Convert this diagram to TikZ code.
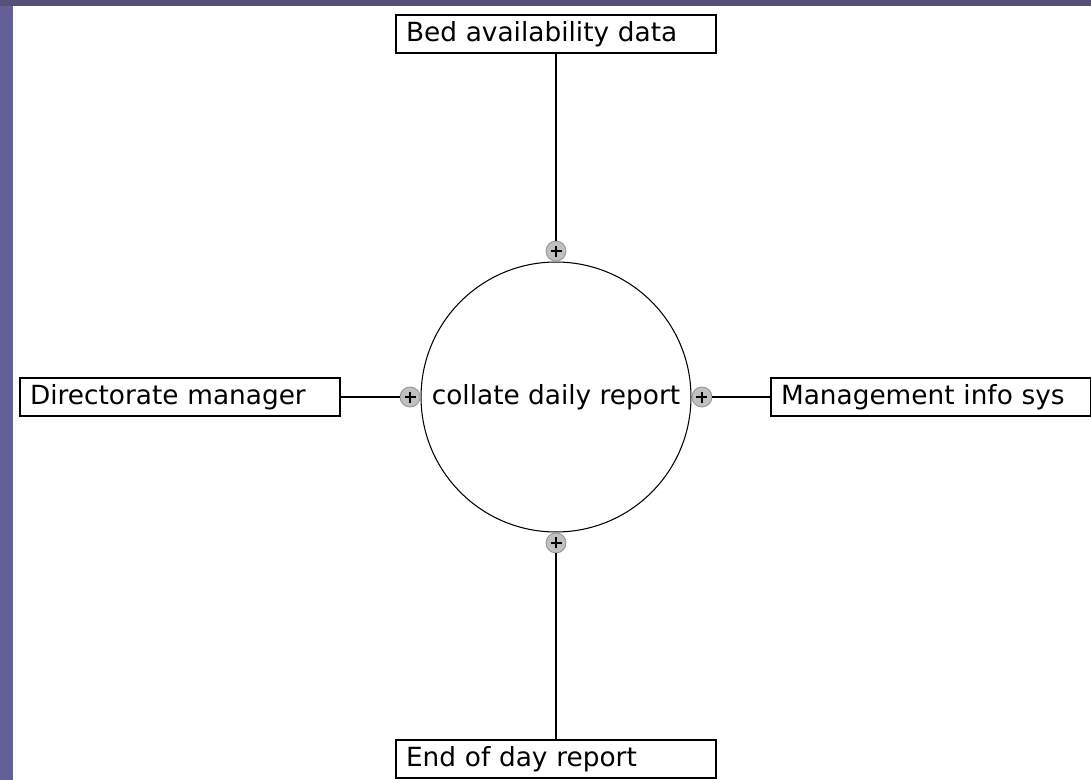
\documentclass[tikz,border=0pt]{standalone}
\usepackage{fontspec}
\setmainfont{DejaVu Sans}
\usetikzlibrary{positioning}

\definecolor{slideside}{RGB}{98,96,150}
\definecolor{slidetop}{RGB}{84,80,120}
\definecolor{portfill}{RGB}{192,192,192}
\definecolor{portedge}{RGB}{150,150,150}

\tikzset{
  actor/.style={draw, line width=0.8pt, minimum height=0.76cm, text width=6cm,
    align=left, inner xsep=0.2cm},
  process/.style={draw, circle, line width=0.6pt, minimum size=5.4cm, inner sep=0pt},
  port/.style={circle, draw=portedge, fill=portfill, line width=0.5pt,
    minimum size=0.4cm, inner sep=0pt,
    path picture={
      \draw[black, line width=0.9pt] ([xshift=-0.11cm]path picture bounding box.center)
        -- ([xshift=0.11cm]path picture bounding box.center);
      \draw[black, line width=0.9pt] ([yshift=-0.11cm]path picture bounding box.center)
        -- ([yshift=0.11cm]path picture bounding box.center);
    }},
  link/.style={line width=0.7pt}
}

\begin{document}
\begin{tikzpicture}[x=0.02cm, y=-0.02cm, font=\fontsize{15}{18}\selectfont]
    % slide backdrop
    \fill[slideside] (0,0) rectangle (1091,780);
    \fill[slidetop] (0,0) rectangle (1091,6);
    \fill[white] (13,6) rectangle (1091,780);
    \useasboundingbox (0,0) rectangle (1091,780);

    \node[process] (collate) at (556,397) {collate daily report};

    \node[port, above=0pt of collate] (portn) {};
    \node[port, below=0pt of collate] (ports) {};
    \node[port, left=0pt of collate] (portw) {};
    \node[port, right=0pt of collate] (porte) {};

    \node[actor] (bed) at (556,34) {Bed availability data};
    \node[actor] (dirman) at (180,397) {Directorate manager};
    \node[actor] (mis) at (931,397) {Management info sys};
    \node[actor] (eod) at (556,759) {End of day report};

    \draw[link] (bed) -- (portn);
    \draw[link] (eod) -- (ports);
    \draw[link] (dirman) -- (portw);
    \draw[link] (mis) -- (porte);

\end{tikzpicture}
\end{document}
